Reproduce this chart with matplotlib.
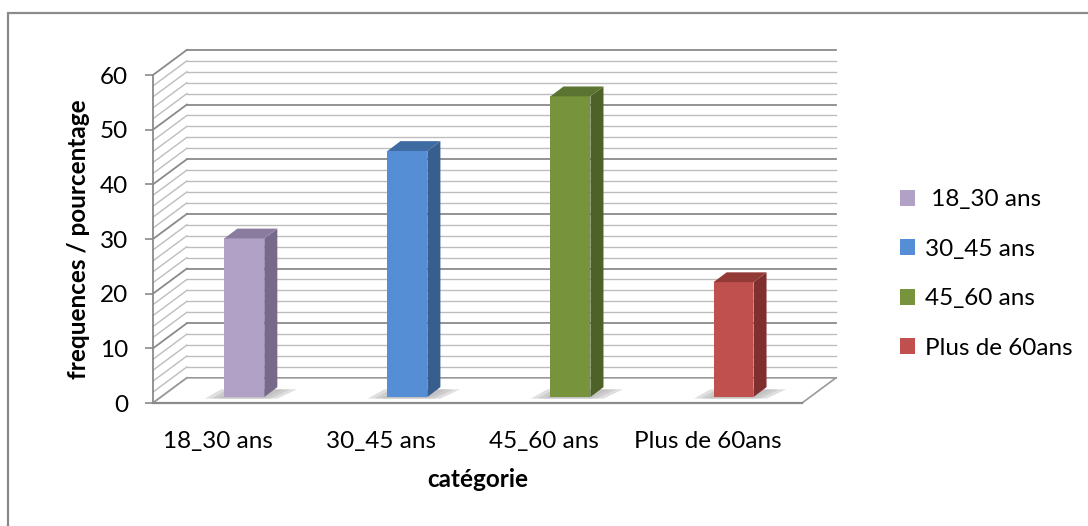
import numpy as np
import matplotlib
matplotlib.use('Agg')
from matplotlib import pyplot as plt
from matplotlib.patches import Polygon, Rectangle

categories = ['18_30 ans', '30_45 ans', '45_60 ans', 'Plus de 60ans']
legend_labels = [' 18_30 ans', '30_45 ans', '45_60 ans', 'Plus de 60ans']
values = [29, 45, 55, 21]
face_colors = ['#B2A1C7', '#558ED5', '#77933C', '#C0504D']
side_colors = ['#76698A', '#385E8E', '#4E6128', '#7F302E']
top_colors = ['#8A7C9E', '#3F6BA3', '#5B7431', '#933936']

plt.rcParams['font.family'] = ['Lato', 'DejaVu Sans']

W, H = 1088, 526
fig = plt.figure(figsize=(W / 100, H / 100), dpi=100)

# front of the plot area, in pixels of the picture
x_left, x_right, y_zero, y_top = 153, 802, 403, 75
ax = fig.add_axes([x_left / W, 1 - y_zero / H, (x_right - x_left) / W, (y_zero - y_top) / H])
xmin, xmax = -0.40, 3.58
ax.set_xlim(xmin, xmax)
ax.set_ylim(0, 60)

# 3d look: depth of the walls and of the bars
dx, dy = 0.208, 4.6
bx, by = 0.08, 1.8
base = 1.1
half_w = 0.1225
shift = 0.16

grid_c = '#bdbdbd'
major_c = '#8a8a8a'
fs = 17.5

# back wall and side wall grid
for v in range(0, 62, 2):
  c = major_c if v % 10 == 0 else grid_c
  lw = 1.3 if v % 10 == 0 else 1.0
  ax.plot([xmin + dx, xmax + dx], [v + dy, v + dy], color=c, lw=lw, clip_on=False, zorder=1)
  ax.plot([xmin, xmin + dx], [v, v + dy], color=c, lw=lw, clip_on=False, zorder=1)

# floor
floor = Polygon([(xmin, 0), (xmax, 0), (xmax + dx, dy), (xmin + dx, dy)], closed=True,
                facecolor='white', edgecolor='#9a9a9a', lw=1.2, clip_on=False, zorder=2)
ax.add_patch(floor)

handles = []
for i, v in enumerate(values):
  x0 = i + shift - half_w
  x1 = i + shift + half_w
  # soft shadow on the floor
  for k, a in enumerate([0.12, 0.18, 0.25]):
    g = 0.04 * (2 - k)
    shadow = Polygon([(x0 - 0.12 + g, base - 0.3), (x1 + 0.08 - g, base - 0.3),
                      (x1 + 0.2 - g, base + 1.4), (x0 - 0.02 + g, base + 1.4)],
                     closed=True, facecolor='#808080', edgecolor='none', alpha=a, clip_on=False, zorder=3)
    ax.add_patch(shadow)
  front = Rectangle((x0, base), x1 - x0, v, facecolor=face_colors[i], edgecolor='none', clip_on=False, zorder=4)
  side = Polygon([(x1, base), (x1 + bx, base + by), (x1 + bx, base + v + by), (x1, base + v)], closed=True,
                 facecolor=side_colors[i], edgecolor='none', clip_on=False, zorder=4)
  top = Polygon([(x0, base + v), (x1, base + v), (x1 + bx, base + v + by), (x0 + bx, base + v + by)], closed=True,
                facecolor=top_colors[i], edgecolor='none', clip_on=False, zorder=4)
  ax.add_patch(front)
  ax.add_patch(side)
  ax.add_patch(top)
  handles.append(front)

# axes
for s in ['top', 'right']:
  ax.spines[s].set_visible(False)
ax.spines['left'].set_color(major_c)
ax.spines['bottom'].set_color(major_c)
ax.spines['left'].set_linewidth(1.3)
ax.spines['bottom'].set_linewidth(1.6)
ax.set_facecolor('none')

ax.set_yticks(range(0, 61, 10))
ax.tick_params(axis='y', direction='out', length=6, width=1.2, color=major_c, labelsize=fs, pad=12)
ax.set_xticks(range(len(categories)))
ax.set_xticklabels(categories)
ax.tick_params(axis='x', length=0, labelsize=fs, pad=20)

ax.set_ylabel('frequences / pourcentage', fontsize=fs, fontweight='bold', labelpad=7)
ax.set_xlabel('catégorie', fontsize=fs, fontweight='bold', labelpad=12)

ax.legend(handles, legend_labels, loc='center left', bbox_to_anchor=(878 / W, 1 - 274 / H),
          bbox_transform=fig.transFigure, frameon=False, fontsize=fs,
          handlelength=0.62, handleheight=0.62, handletextpad=0.4, labelspacing=1.17)

# chart border (runs past the right and bottom edges of the picture)
fig.patches.append(Rectangle((8 / W, -0.1), 1.2, 1 - 13 / H + 0.1, transform=fig.transFigure,
                             fill=False, edgecolor='#8a8a8a', lw=1.6))

fig.savefig('out.png', dpi=100)
